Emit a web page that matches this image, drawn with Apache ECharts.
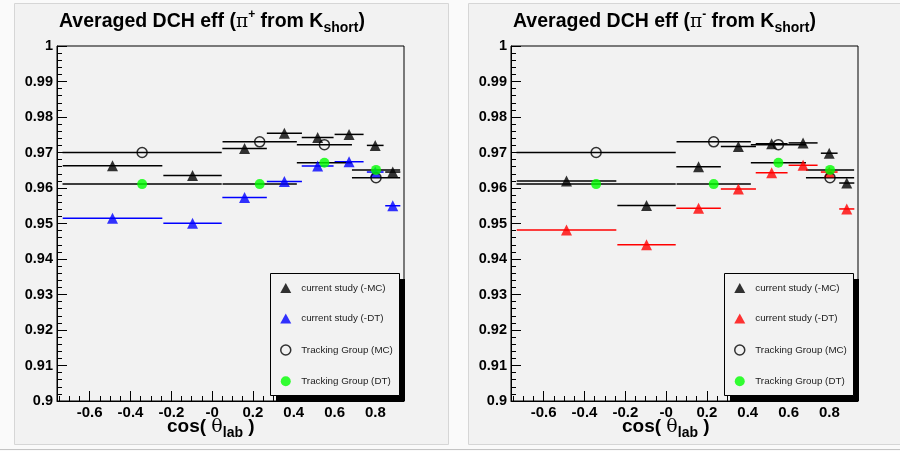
<!DOCTYPE html>
<html><head><meta charset="utf-8">
<script src="https://cdn.jsdelivr.net/npm/echarts@6/dist/echarts.min.js"></script>
<style>html,body{margin:0;padding:0;background:#fafafa}#c{width:900px;height:451px}</style>
</head><body><div id="c"></div>
<script>
// ---- data ----
const xTickValues = [-0.6, -0.4, -0.2, 0, 0.2, 0.4, 0.6, 0.8];
const xTickLabels = ['-0.6', '-0.4', '-0.2', '-0', '0.2', '0.4', '0.6', '0.8'];
// current study bins (centre, half width)
const csX    = [-0.488, -0.096, 0.159, 0.354, 0.517, 0.671, 0.799, 0.885];
const csXErr = [0.244, 0.143, 0.109, 0.086, 0.078, 0.071, 0.041, 0.037];
// tracking group bins
const tgX    = [-0.343, 0.233, 0.550, 0.803];
const tgXErr = [0.390, 0.182, 0.135, 0.118];
// pi+ panel
const plusMC  = [0.9663, 0.9635, 0.9711, 0.9754, 0.9742, 0.9751, 0.9720, 0.9645];
const plusDT  = [0.9515, 0.9501, 0.9573, 0.9618, 0.9662, 0.9674, 0.9645, 0.9550];
// pi- panel
const minusMC = [0.9620, 0.9551, 0.9660, 0.9717, 0.9725, 0.9727, 0.9698, 0.9614];
const minusDT = [0.9482, 0.9440, 0.9543, 0.9597, 0.9643, 0.9664, 0.9645, 0.9541];
// tracking group (same in both panels)
const tgMC = [0.9700, 0.9730, 0.9722, 0.9629];
const tgDT = [0.9611, 0.9611, 0.9671, 0.9651];

const names = ['current study (-MC)', 'current study (-DT)', 'Tracking Group (MC)', 'Tracking Group (DT)'];

const FONT = "'Liberation Sans', Arial, Helvetica, sans-serif";
const PAD = '#f2f2f2';

function fmtX(v) {
  for (let i = 0; i < xTickValues.length; i++) if (Math.abs(v - xTickValues[i]) < 1e-6) return xTickLabels[i];
  return '';
}

function errBars(xs, xerr, ys, color, gi) {
  return {
    type: 'custom', xAxisIndex: gi, yAxisIndex: gi, silent: true, z: 2,
    data: xs.map((x, k) => [x, ys[k], xerr[k]]),
    renderItem: (params, api) => {
      const a = api.coord([api.value(0) - api.value(2), api.value(1)]);
      const b = api.coord([api.value(0) + api.value(2), api.value(1)]);
      return { type: 'line', shape: { x1: a[0], y1: a[1], x2: b[0], y2: b[1] },
               style: { stroke: color, lineWidth: 1.5 } };
    }
  };
}
function markers(name, xs, ys, gi, symbol, itemStyle, size) {
  return {
    type: 'scatter', name: name, xAxisIndex: gi, yAxisIndex: gi, z: 3, silent: true,
    data: xs.map((x, k) => [x, ys[k]]), symbol: symbol, symbolSize: size, itemStyle: itemStyle
  };
}

const openCircle = { color: 'rgba(0,0,0,0)', borderColor: '#000', borderWidth: 1.5 };
const greenDot = { color: '#00ff00' };

function panelSeries(gi, mc, dt, dtColor) {
  return [
    errBars(csX, csXErr, mc, '#000', gi),
    errBars(csX, csXErr, dt, dtColor, gi),
    errBars(tgX, tgXErr, tgMC, '#000', gi),
    errBars(tgX, tgXErr, tgDT, '#000', gi),
    markers(names[0], csX, mc, gi, 'triangle', { color: '#000' }, 11),
    markers(names[1], csX, dt, gi, 'triangle', { color: dtColor }, 11),
    markers(names[2], tgX, tgMC, gi, 'circle', openCircle, 10),
    markers(names[3], tgX, tgDT, gi, 'circle', greenDot, 10)
  ];
}

function xAxis(gi) {
  return {
    type: 'value', gridIndex: gi, min: -0.76, max: 0.94, splitNumber: 8,
    axisLine: { show: true, onZero: false, lineStyle: { color: '#000', width: 1 } },
    axisTick: { show: true, inside: true, length: 10, lineStyle: { color: '#000' } },
    minorTick: { show: true, splitNumber: 4, length: 5, lineStyle: { color: '#000' } },
    splitLine: { show: false },
    axisLabel: { formatter: fmtX, fontFamily: FONT, fontWeight: 'bold', fontSize: 15, color: '#000', margin: 4 }
  };
}
function yAxis(gi) {
  return {
    type: 'value', gridIndex: gi, min: 0.9, max: 1, interval: 0.01,
    axisLine: { show: true, onZero: false, lineStyle: { color: '#000', width: 1 } },
    axisTick: { show: true, inside: true, length: 10, lineStyle: { color: '#000' } },
    minorTick: { show: true, splitNumber: 5, length: 5, lineStyle: { color: '#000' } },
    splitLine: { show: false },
    axisLabel: { fontFamily: FONT, fontWeight: 'bold', fontSize: 14.5, color: '#000', margin: 4 }
  };
}

function legend(left, dtColor) {
  return {
    left: left, top: 273, orient: 'vertical', itemWidth: 11, itemHeight: 10, itemGap: 20.6,
    padding: [10, 0, 10, 10], backgroundColor: 'transparent', borderWidth: 0,
    selectedMode: false, z: 6,
    textStyle: { fontFamily: FONT, fontSize: 9.8, color: '#222', padding: [0, 0, 0, 5] },
    data: [
      { name: names[0], icon: 'triangle', itemStyle: { color: '#000' } },
      { name: names[1], icon: 'triangle', itemStyle: { color: dtColor } },
      { name: names[2], icon: 'circle', itemStyle: openCircle },
      { name: names[3], icon: 'circle', itemStyle: greenDot }
    ]
  };
}
function legendBox(x) {
  return [
    { type: 'rect', z: 4, silent: true, shape: { x: x + 6, y: 279, width: 129, height: 122 }, style: { fill: '#000' } },
    { type: 'rect', z: 5, silent: true, shape: { x: x + 0.5, y: 273.5, width: 129, height: 122 },
      style: { fill: PAD, stroke: '#000', lineWidth: 1 } }
  ];
}

const mainRich = {
  m: { fontFamily: FONT, fontWeight: 'bold', fontSize: 19.5, lineHeight: 26, color: '#000' },
  p: { fontFamily: "'DejaVu Serif', 'Liberation Serif', serif", fontWeight: 'normal', fontSize: 18.5, lineHeight: 26, color: '#000' },
  sup: { fontFamily: FONT, fontWeight: 'bold', fontSize: 12, lineHeight: 20, verticalAlign: 'top', color: '#000' },
  sub: { fontFamily: FONT, fontWeight: 'bold', fontSize: 14, lineHeight: 14, verticalAlign: 'bottom', color: '#000' }
};
const axisRich = {
  m: { fontFamily: FONT, fontWeight: 'bold', fontSize: 19, lineHeight: 26, color: '#000' },
  t: { fontFamily: "'DejaVu Serif', 'Liberation Serif', serif", fontWeight: 'normal', fontSize: 19, lineHeight: 26, color: '#000' },
  sub: { fontFamily: FONT, fontWeight: 'bold', fontSize: 14, lineHeight: 12, verticalAlign: 'bottom', color: '#000' }
};

const chart = echarts.init(document.getElementById('c'), null, { renderer: 'canvas' });
chart.setOption({
  backgroundColor: '#fafafa',
  animation: false,
  graphic: [
    { type: 'rect', z: -10, silent: true, shape: { x: 14.5, y: 3.5, width: 434, height: 441 },
      style: { fill: PAD, stroke: '#d6d6d6', lineWidth: 1 } },
    { type: 'rect', z: -10, silent: true, shape: { x: 468.5, y: 3.5, width: 440, height: 441 },
      style: { fill: PAD, stroke: '#d6d6d6', lineWidth: 1 } },
    { type: 'line', z: -9, silent: true, shape: { x1: 0, y1: 449.5, x2: 900, y2: 449.5 },
      style: { stroke: '#c4c4c4', lineWidth: 1 } }
  ].concat(legendBox(270), legendBox(724)),
  title: [
    { left: 59, top: 9, padding: 0, text: '{m|Averaged DCH eff (}{p|π}{sup|+}{m| from K}{sub|short}{m|)}',
      textStyle: { rich: mainRich } },
    { left: 513, top: 9, padding: 0, text: '{m|Averaged DCH eff (}{p|π}{sup|-}{m| from K}{sub|short}{m|)}',
      textStyle: { rich: mainRich } },
    { left: 167, top: 414, padding: 0, text: '{m|cos( }{t|θ}{sub|lab}{m| )}', textStyle: { rich: axisRich } },
    { left: 622, top: 414, padding: 0, text: '{m|cos( }{t|θ}{sub|lab}{m| )}', textStyle: { rich: axisRich } }
  ],
  grid: [
    { left: 57, top: 46, width: 347, height: 355, show: true, borderColor: '#000', borderWidth: 1, backgroundColor: 'transparent' },
    { left: 511, top: 46, width: 347, height: 355, show: true, borderColor: '#000', borderWidth: 1, backgroundColor: 'transparent' }
  ],
  xAxis: [xAxis(0), xAxis(1)],
  yAxis: [yAxis(0), yAxis(1)],
  legend: [legend(270, '#0000ff'), legend(724, '#ff0000')],
  series: [].concat(panelSeries(0, plusMC, plusDT, '#0000ff'), panelSeries(1, minusMC, minusDT, '#ff0000'))
});
</script></body></html>
